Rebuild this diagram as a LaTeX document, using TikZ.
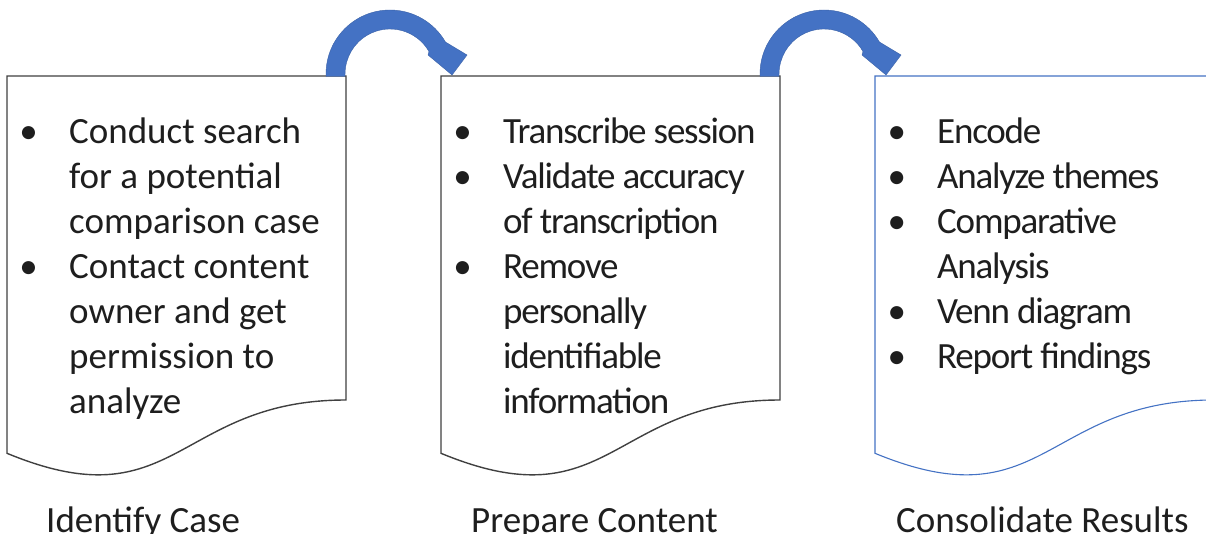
\documentclass[tikz,border=0pt]{standalone}
\usepackage{fontspec}
\setmainfont{Carlito}
\definecolor{pptblue}{RGB}{68,114,196}
\definecolor{boxgray}{RGB}{64,64,64}
\definecolor{txt}{RGB}{30,30,30}
\newcommand\bu{\makebox[0pt]{\textbullet}}
\tikzset{
  docshape/.pic={\path[pic actions] (0,0) -- (339,0) -- (339,-324)
      .. controls (169.5,-324) and (169.5,-447.4) .. (0,-377.3) -- cycle;},
  curvarrow/.pic={\path[pic actions] (-20,-0.5) -- (-20,2)
      arc[start angle=180, end angle=30, radius=64] -- (121,21) -- (106,1)
      -- (82,21) -- (83,24.5) arc[start angle=30, end angle=180, radius=45]
      -- (-1,-0.5) -- cycle;},
  graybox/.style={draw=boxgray, line width=1.4pt, fill=white},
  bluebox/.style={draw=pptblue, line width=1.1pt, fill=white},
  blockarrow/.style={fill=pptblue, draw=pptblue!85!black, line width=0.4pt},
  listtext/.style={anchor=north west, inner sep=0pt, text=txt,
      font=\fontsize{37}{45}\selectfont},
  tight/.style={font=\fontsize{37}{45}\selectfont\addfontfeatures{LetterSpace=-3.3}},
  steplabel/.style={anchor=base west, inner sep=0pt, text=txt,
      font=\fontsize{37}{45}\selectfont},
}
\begin{document}
\begin{tikzpicture}[x=1pt,y=1pt]
\useasboundingbox (0,0) rectangle (1206,533);
% box corners (top left / top right)
\coordinate (b1) at (7,457);   \coordinate (b1tr) at (346,457);
\coordinate (b2) at (441,457); \coordinate (b2tr) at (780,457);
\coordinate (b3) at (875,457);
% document boxes
\pic[graybox] at (b1) {docshape};
\pic[graybox] at (b2) {docshape};
\pic[bluebox] at (b3) {docshape};
% curved arrows
\pic[blockarrow] at (b1tr) {curvarrow};
\pic[blockarrow] at (b2tr) {curvarrow};
% lists
\node[listtext] (t1) at (28.5,421.5) {\begin{tabular}{@{}l@{\hspace{40.5pt}}l@{}}
\bu & Conduct search\\
    & for a potential\\
    & comparison case\\
\bu & Contact content\\
    & owner and get\\
    & permission to\\
    & analyze
\end{tabular}};
\node[listtext, tight] (t2) at (462.5,421.5) {\begin{tabular}{@{}l@{\hspace{40.5pt}}l@{}}
\bu & Transcribe session\\
\bu & Validate accuracy\\
    & of transcription\\
\bu & Remove\\
    & personally\\
    & identifiable\\
    & information
\end{tabular}};
\node[listtext, tight] (t3) at (896.5,421.5) {\begin{tabular}{@{}l@{\hspace{40.5pt}}l@{}}
\bu & Encode\\
\bu & Analyze themes\\
\bu & Comparative\\
    & Analysis\\
\bu & Venn diagram\\
\bu & Report findings
\end{tabular}};
% step labels
\node[steplabel] (l1) at (46,1) {Identify Case};
\node[steplabel] (l2) at (471,1) {Prepare Content};
\node[steplabel] (l3) at (896,1) {Consolidate Results};
\end{tikzpicture}
\end{document}
